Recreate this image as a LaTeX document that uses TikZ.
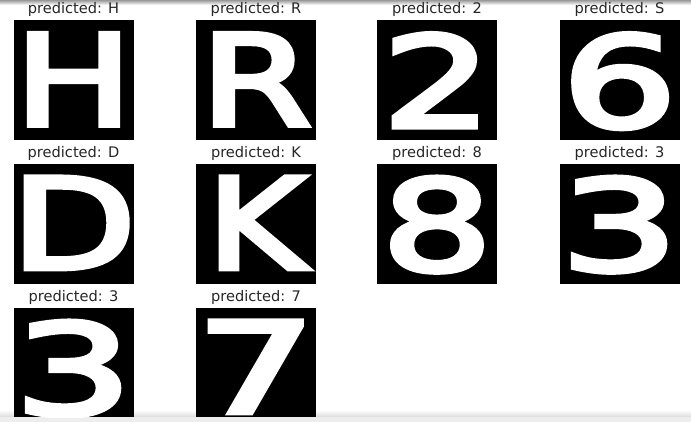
\documentclass[tikz,border=0pt]{standalone}
\usepackage{fontspec}
\usepackage{graphicx}
\usetikzlibrary{positioning}
\newfontfamily\lblfont{DejaVu Sans}
\newfontfamily\glyphfont[FakeBold=4]{DejaVu Sans}
\newcommand{\glyph}[2]{\scalebox{#1}[1]{#2}}

\begin{document}
\begin{tikzpicture}[x=1pt, y=-1pt]
            \tikzset{imgbox/.style={fill=black, minimum width=120pt, minimum height=120pt, inner sep=0pt},
                     cutbox/.style={imgbox, minimum height=109pt},
                     glyph/.style={text=white, inner sep=0pt, font=\glyphfont\fontsize{126}{127}\selectfont},
                     lbl/.style={text=black!85, inner sep=0pt, font=\lblfont\fontsize{14.6}{16}\selectfont}}
                    \useasboundingbox (0,0) rectangle (691,422);
                    % window edges
                    \shade[top color=black!40, bottom color=white] (0,0) rectangle (691,5);
                    \shade[top color=white, bottom color=black!14] (0,410) rectangle (691,417);
                    \fill[black!7] (0,417) rectangle (691,422);
                    % first row
                    \node[imgbox] (imgH) at (73.5,80.5) {};
                    \node[imgbox] (imgR) at (256,80.5) {};
                    \node[imgbox] (imgTwo) at (437,80.5) {};
                    \node[imgbox] (imgSix) at (619.5,80.5) {};
                    \node[glyph, below=13pt of imgH.north] {\glyph{1.24}{H}};
                    \node[glyph, below=13pt of imgR.north] {\glyph{1.27}{R}};
                    \node[glyph, below=13pt of imgTwo.north] {\glyph{1.36}{2}};
                    \node[glyph, below=13pt of imgSix.north] {\glyph{1.43}{6}};
                    \node[lbl, above=3.5pt of imgH] {predicted: H};
                    \node[lbl, above=3.5pt of imgR] {predicted: R};
                    \node[lbl, above=3.5pt of imgTwo] {predicted: 2};
                    \node[lbl, above=3.5pt of imgSix] {predicted: S};
                    % second row
                    \node[imgbox] (imgD) at (73.5,224) {};
                    \node[imgbox] (imgK) at (256,224) {};
                    \node[imgbox] (imgEight) at (437,224) {};
                    \node[imgbox] (imgThree) at (619.5,224) {};
                    \node[glyph, below=13pt of imgD.north] {\glyph{1.29}{D}};
                    \node[glyph, below=13pt of imgK.north] {\glyph{1.19}{K}};
                    \node[glyph, below=13pt of imgEight.north] {\glyph{1.38}{8}};
                    \node[glyph, below=13pt of imgThree.north] {\glyph{1.47}{3}};
                    \node[lbl, above=3.5pt of imgD] {predicted: D};
                    \node[lbl, above=3.5pt of imgK] {predicted: K};
                    \node[lbl, above=3.5pt of imgEight] {predicted: 8};
                    \node[lbl, above=3.5pt of imgThree] {predicted: 3};
                    % third row, cut off by the window
                    \node[cutbox] (imgLast) at (73.5,362.5) {};
                    \node[cutbox] (imgSeven) at (256,362.5) {};
                    \begin{scope}
                        \clip (0,300) rectangle (691,417);
                        \node[glyph, below=13pt of imgLast.north] {\glyph{1.47}{3}};
                        \node[glyph, below=13pt of imgSeven.north] {\glyph{1.5}{7}};
                    \end{scope}
                    \node[lbl, above=3.5pt of imgLast] {predicted: 3};
                    \node[lbl, above=3.5pt of imgSeven] {predicted: 7};
            \end{tikzpicture}
\end{document}
